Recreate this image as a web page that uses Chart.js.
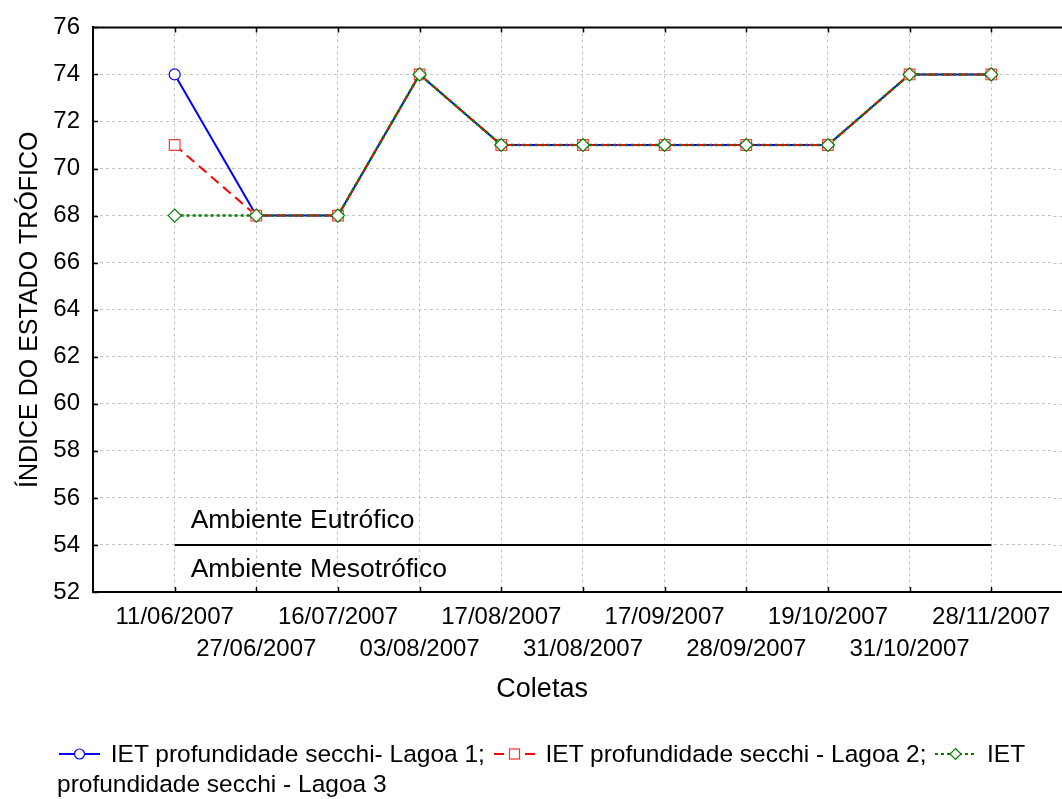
<!DOCTYPE html>
<html>
<head>
<meta charset="utf-8">
<script src="https://cdn.jsdelivr.net/npm/chart.js@4/dist/chart.umd.min.js"></script>
<style>
  body { margin: 0; background: #fff; }
  #wrap { position: relative; width: 1062px; height: 799px; overflow: hidden; }
  #legend {
    position: absolute; left: 57px; top: 739px; width: 1000px;
    font: 24.5px 'Liberation Sans', Arial, sans-serif; line-height: 30px; color: #000;
  }
  #legend svg { vertical-align: middle; margin: 0 4px 3px 2px; }
</style>
</head>
<body>
<div id="wrap">
  <canvas id="myChart" width="1062" height="799"></canvas>
  <div id="legend">
    <svg width="41" height="14"><line x1="0" y1="7" x2="41" y2="7" stroke="#0000ff" stroke-width="2"/><circle cx="20.5" cy="7" r="5" fill="#fff" stroke="#0000ff" stroke-width="1.2"/></svg> IET profundidade secchi- Lagoa 1;
    <svg width="41" height="14"><line x1="0" y1="7" x2="10" y2="7" stroke="#ff0000" stroke-width="2"/><line x1="31" y1="7" x2="41" y2="7" stroke="#ff0000" stroke-width="2"/><rect x="15.5" y="2" width="10" height="10" fill="#fff" stroke="#ff3030" stroke-width="1.2"/></svg> IET profundidade secchi - Lagoa 2;
    <svg width="41" height="14"><line x1="0" y1="7" x2="41" y2="7" stroke="#008000" stroke-width="2" stroke-dasharray="3,3"/><path d="M20.5 1.5 L26 7 L20.5 12.5 L15 7 Z" fill="#fff" stroke="#008000" stroke-width="1.2"/></svg> IET profundidade secchi - Lagoa 3
  </div>
</div>
<script>
const categories = ['11/06/2007', '27/06/2007', '16/07/2007', '03/08/2007', '17/08/2007', '31/08/2007',
  '17/09/2007', '28/09/2007', '19/10/2007', '31/10/2007', '28/11/2007'];
const lagoa1 = [74, 68, 68, 74, 71, 71, 71, 71, 71, 74, 74];
const lagoa2 = [71, 68, 68, 74, 71, 71, 71, 71, 71, 74, 74];
const lagoa3 = [68, 68, 68, 74, 71, 71, 71, 71, 71, 74, 74];
const yMin = 52;
const yMax = 76;
const yStep = 2;
const limiar = 54; // Eutrofico / Mesotrofico
const labelAcima = 'Ambiente Eutrófico';
const labelAbaixo = 'Ambiente Mesotrófico';

const FONT = "'Liberation Sans', Arial, sans-serif";

function pts(arr){
  return arr.map((v, i) => ({x: i + 1, y: v}));
}

const extras = {
  id: 'extras',
  beforeDatasetsDraw(chart){
    // the plot runs off the right side of the picture: carry grid on to the edge
    const {ctx, chartArea: a, scales: {y}} = chart;
    ctx.save();
    ctx.strokeStyle = '#c4c4c4';
    ctx.lineWidth = 1;
    ctx.setLineDash([3, 3]);
    ctx.beginPath();
    y.ticks.forEach(t => {
      const py = Math.round(y.getPixelForValue(t.value)) + 0.5;
      ctx.moveTo(a.right, py); ctx.lineTo(chart.width, py);
    });
    ctx.stroke();
    ctx.restore();
  },
  afterDraw(chart){
    const {ctx, chartArea: a, scales: {x, y}} = chart;
    ctx.save();
    // frame top and bottom to the edge
    ctx.strokeStyle = '#000';
    ctx.lineWidth = 2;
    ctx.beginPath();
    ctx.moveTo(a.left - 1, a.top);
    ctx.lineTo(chart.width, a.top);
    ctx.moveTo(a.left, a.bottom);
    ctx.lineTo(chart.width, a.bottom);
    ctx.stroke();
    // inward tick marks
    ctx.lineWidth = 1.5;
    ctx.beginPath();
    x.ticks.forEach(t => {
      const px = Math.round(x.getPixelForValue(t.value)) + 0.5;
      ctx.moveTo(px, a.bottom); ctx.lineTo(px, a.bottom - 5);
      ctx.moveTo(px, a.top); ctx.lineTo(px, a.top + 5);
    });
    y.ticks.forEach(t => {
      const py = Math.round(y.getPixelForValue(t.value)) + 0.5;
      ctx.moveTo(a.left, py); ctx.lineTo(a.left + 5, py);
    });
    ctx.stroke();
    // annotation texts
    ctx.fillStyle = '#000';
    ctx.font = '26.5px ' + FONT;
    ctx.textBaseline = 'middle';
    ctx.textAlign = 'left';
    const tx = x.getPixelForValue(1) + 16;
    const ty = y.getPixelForValue(limiar);
    ctx.fillText(labelAcima, tx, ty - 24);
    ctx.fillText(labelAbaixo, tx, ty + 25);
    // x title
    ctx.textAlign = 'center';
    ctx.font = '27px ' + FONT;
    ctx.fillText('Coletas', (a.left + x.getPixelForValue(categories.length)) / 2, 690);
    ctx.restore();
  }
};

const chart = new Chart(document.getElementById('myChart'), {
  type: 'line',
  data: {
    datasets: [{
      label: 'IET profundidade secchi- Lagoa 1',
      data: pts(lagoa1),
      borderColor: '#0000ff',
      borderWidth: 2,
      pointStyle: 'circle',
      pointRadius: 5.5,
      pointBorderWidth: 1.2,
      pointBackgroundColor: '#fff',
      pointBorderColor: '#0000ff',
      order: 3,
    },
    {
      label: 'IET profundidade secchi - Lagoa 2',
      data: pts(lagoa2),
      borderColor: '#ff0000',
      borderWidth: 2,
      borderDash: [10, 6],
      pointStyle: 'rect',
      pointRadius: 7.5,
      pointBorderWidth: 1.2,
      pointBackgroundColor: '#fff',
      pointBorderColor: '#ff3a3a',
      order: 2,
    },
    {
      label: 'IET profundidade secchi - Lagoa 3',
      data: pts(lagoa3),
      borderColor: '#008000',
      borderWidth: 2.5,
      borderDash: [3, 3],
      pointStyle: 'rectRot',
      pointRadius: 6.5,
      pointBorderWidth: 1.2,
      pointBackgroundColor: '#fff',
      pointBorderColor: '#008000',
      order: 1,
    },
    {
      label: 'limiar',
      data: [{x: 1, y: limiar}, {x: categories.length, y: limiar}],
      borderColor: '#000',
      borderWidth: 2,
      pointRadius: 0,
      order: 4,
    }]
  },
  options: {
    responsive: false,
    animation: false,
    layout: {padding: {top: 26, right: 0, bottom: 0, left: 0}},
    plugins: {legend: {display: false}, tooltip: {enabled: false}},
    scales: {
      x: {
        type: 'linear',
        min: 0,
        max: 11.76,
        afterBuildTicks: scale => {
          scale.ticks = categories.map((c, i) => ({value: i + 1}));
        },
        afterFit: scale => { scale.height = 207; },
        grid: {color: '#c4c4c4', lineWidth: 1, drawTicks: false},
        border: {display: true, color: '#000', width: 2, dash: [3, 3]},
        ticks: {
          autoSkip: false,
          maxRotation: 0,
          minRotation: 0,
          padding: 10,
          color: '#000',
          font: {family: FONT, size: 24, lineHeight: '31.5px'},
          callback: value => {
            const i = value - 1;
            if (i < 0 || i >= categories.length) return '';
            return i % 2 === 0 ? categories[i] : ['', categories[i]];
          }
        }
      },
      y: {
        min: yMin,
        max: yMax,
        afterFit: scale => { scale.width = 93; },
        grid: {color: '#c4c4c4', lineWidth: 1, drawTicks: false},
        border: {display: true, color: '#000', width: 2, dash: [3, 3]},
        ticks: {
          stepSize: yStep,
          padding: 13,
          color: '#000',
          font: {family: FONT, size: 24}
        },
        title: {
          display: true,
          text: 'ÍNDICE DO ESTADO TRÓFICO',
          color: '#000',
          font: {family: FONT, size: 25},
          padding: {top: 15, bottom: 0}
        }
      }
    }
  },
  plugins: [extras]
});
</script>
</body>
</html>
